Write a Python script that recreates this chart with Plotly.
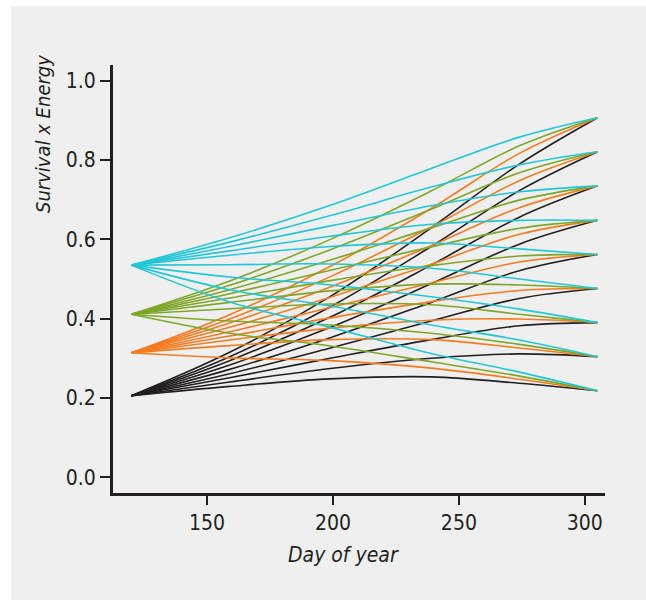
import plotly.graph_objects as go

days = [120, 159, 199, 239, 274, 305]

# Curves (one row per end point, bottom to top); columns follow `days`
black_curves = [
    [0.2055, 0.229, 0.248, 0.253, 0.237, 0.218],
    [0.2055, 0.240, 0.274, 0.300, 0.311, 0.304],
    [0.2055, 0.251, 0.300, 0.347, 0.382, 0.390],
    [0.2055, 0.261, 0.326, 0.394, 0.451, 0.476],
    [0.2055, 0.272, 0.352, 0.441, 0.521, 0.562],
    [0.2055, 0.283, 0.378, 0.488, 0.588, 0.648],
    [0.2055, 0.294, 0.404, 0.535, 0.656, 0.735],
    [0.2055, 0.304, 0.430, 0.582, 0.723, 0.821],
    [0.2055, 0.315, 0.456, 0.629, 0.790, 0.907],
]
orange_curves = [
    [0.314, 0.301, 0.294, 0.275, 0.247, 0.218],
    [0.314, 0.332, 0.347, 0.347, 0.326, 0.304],
    [0.314, 0.346, 0.376, 0.396, 0.399, 0.390],
    [0.314, 0.356, 0.402, 0.443, 0.471, 0.476],
    [0.314, 0.367, 0.428, 0.490, 0.543, 0.562],
    [0.314, 0.378, 0.454, 0.537, 0.613, 0.648],
    [0.314, 0.389, 0.480, 0.584, 0.680, 0.735],
    [0.314, 0.399, 0.506, 0.631, 0.748, 0.821],
    [0.314, 0.410, 0.532, 0.678, 0.817, 0.907],
]
green_curves = [
    [0.411, 0.363, 0.331, 0.291, 0.255, 0.218],
    [0.411, 0.394, 0.384, 0.363, 0.335, 0.304],
    [0.411, 0.425, 0.437, 0.435, 0.411, 0.390],
    [0.411, 0.441, 0.470, 0.487, 0.485, 0.476],
    [0.411, 0.452, 0.496, 0.534, 0.558, 0.562],
    [0.411, 0.463, 0.522, 0.581, 0.628, 0.648],
    [0.411, 0.473, 0.548, 0.629, 0.699, 0.735],
    [0.411, 0.484, 0.574, 0.676, 0.768, 0.821],
    [0.411, 0.495, 0.600, 0.722, 0.836, 0.907],
]
cyan_curves = [
    [0.535, 0.442, 0.378, 0.312, 0.265, 0.218],
    [0.535, 0.473, 0.432, 0.384, 0.346, 0.304],
    [0.535, 0.505, 0.485, 0.455, 0.424, 0.390],
    [0.535, 0.536, 0.538, 0.527, 0.500, 0.476],
    [0.535, 0.560, 0.582, 0.591, 0.576, 0.562],
    [0.535, 0.571, 0.608, 0.638, 0.648, 0.648],
    [0.535, 0.582, 0.634, 0.685, 0.720, 0.735],
    [0.535, 0.593, 0.660, 0.732, 0.788, 0.821],
    [0.535, 0.604, 0.686, 0.779, 0.858, 0.907],
]

x_ticks = [150, 200, 250, 300]
y_ticks = [0.0, 0.2, 0.4, 0.6, 0.8, 1.0]
y_tick_text = ["0.0", "0.2", "0.4", "0.6", "0.8", "1.0"]

groups = [
    ("#231f20", black_curves),
    ("#f47b20", orange_curves),
    ("#7ea62a", green_curves),
    ("#22c7d6", cyan_curves),
]

FONT = "DejaVu Sans Condensed, Liberation Sans Narrow, sans-serif"

fig = go.Figure()
for color, curves in groups:
    for row in curves:
        fig.add_trace(go.Scatter(
            x=days, y=row, mode="lines",
            line=dict(color=color, width=1.6, shape="spline", smoothing=1.0),
            hoverinfo="skip", showlegend=False,
        ))

L, R, T, B = 113, 41, 65, 107
W, H = 646, 600
pw, ph = W - L - R, H - T - B

def px_x(p):
    return (p - L) / pw

def px_y(p):
    return (H - B - p) / ph

fig.add_shape(type="rect", xref="paper", yref="paper",
              x0=px_x(11), x1=px_x(660), y0=px_y(6), y1=px_y(620),
              fillcolor="#efefef", line=dict(width=0), layer="below")

fig.update_layout(
    width=W, height=H,
    margin=dict(l=L, r=R, t=T, b=B, pad=0),
    paper_bgcolor="white",
    plot_bgcolor="#efefef",
    font=dict(family=FONT, size=21, color="#231f20"),
    xaxis=dict(range=[112.7, 308], tickvals=x_ticks, ticks="outside", ticklen=9,
               tickwidth=1.5, tickcolor="#231f20", showline=True, linewidth=3,
               linecolor="#231f20", showgrid=False, zeroline=False,
               tickfont=dict(family=FONT, size=21)),
    yaxis=dict(range=[-0.04, 1.04], tickvals=y_ticks, ticktext=y_tick_text,
               ticks="outside", ticklen=10, tickwidth=1.5, tickcolor="#231f20",
               showline=True, linewidth=3, linecolor="#231f20", showgrid=False,
               zeroline=False, tickfont=dict(family=FONT, size=21)),
    annotations=[
        dict(text="<i>Day of year</i>", xref="paper", yref="paper",
             x=px_x(343.5), y=px_y(555), showarrow=False,
             font=dict(family=FONT, size=21), xanchor="center", yanchor="middle"),
        dict(text="<i>Survival x Energy</i>", xref="paper", yref="paper",
             x=px_x(43), y=px_y(134), showarrow=False, textangle=-90,
             font=dict(family=FONT, size=20), xanchor="center", yanchor="middle"),
    ],
)

fig.write_html("out.html")
